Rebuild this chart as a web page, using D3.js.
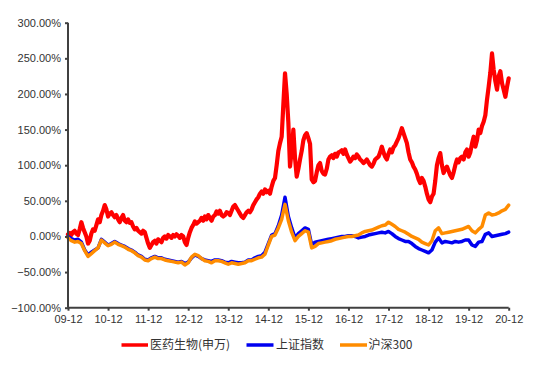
<!DOCTYPE html>
<html>
<head>
<meta charset="utf-8">
<script src="https://cdn.jsdelivr.net/npm/d3@7"></script>
<style>
  html, body { margin: 0; padding: 0; background: #fff; }
  svg { display: block; }
  text { font-family: "Liberation Sans", Arial, sans-serif; }
</style>
</head>
<body>
<div id="chart"></div>
<script>
// x tick labels (one per December, 2009-12 .. 2020-12)
const xTickLabels = ["09-12","10-12","11-12","12-12","13-12","14-12","15-12","16-12","17-12","18-12","19-12","20-12"];
const yTicks = [-100, -50, 0, 50, 100, 150, 200, 250, 300];
const seriesNames = ["医药生物(申万)", "上证指数", "沪深300"];

// 医药生物(申万): cumulative return (%), two readings per month from 2009-12
const pharma = [
  3,5, 2,6, 8,4, 2,10, 20,12, 6,0, -10,-6, 4,10, 8,16, 24,20,
  30,36, 44,38, 28,32, 34,30, 27,30, 24,20, 26,30, 22,20, 24,19, 20,14,
  10,12, 8,6, 4,8, 6,-2, -10,-16, -12,-8, -6,-10, -4,-6, -8,-2, 0,-3,
  2,0, -2,2, 0,3, 1,-2, 2,0, -8,-12, -2,6, 12,16, 21,18, 20,22,
  26,22, 28,24, 30,26, 22,28, 30,35, 32,36, 30,28, 30,34, 33,30, 36,42,
  44,40, 36,32, 28,26, 30,34, 36,34, 38,44, 48,52, 55,60, 63,60, 66,62,
  64,60, 70,78, 82,100, 120,131, 140,185, 229,200, 160,98, 120,150, 110,84, 95,108,
  120,135, 142,145, 138,130, 80,76, 78,90, 100,103, 92,88, 87,95, 108,112, 114,110,
  116,112, 118,119, 121,116, 122,115, 110,105, 108,112, 110,115, 112,108, 106,103, 105,108,
  104,100, 98,102, 108,110, 112,118, 126,118, 112,108, 116,122, 118,125, 128,133, 138,145,
  152,145, 138,131, 118,108, 104,98, 94,88, 80,75, 82,78, 70,60, 52,48, 56,60,
  78,100, 110,117, 100,89, 95,98, 92,86, 82,90, 100,108, 104,110, 112,108, 118,122,
  112,118, 130,140, 126,135, 150,145, 155,161, 170,192, 210,230, 257,234, 218,206, 225,232,
  215,206, 196,210, 222
];

// 上证指数: cumulative return (%), one reading per month from 2009-12
const shanghai = [
  0,-3,-5,-4,-8,-19,-26,-22,-19,-16,
  -4,-8,-12,-10,-7,-10,-12,-14,-17,-19,
  -22,-26,-28,-32,-33,-30,-28,-30,-30,-32,
  -33,-34,-35,-36,-35,-38,-36,-30,-26,-28,
  -31,-33,-34,-35,-33,-33,-34,-36,-37,-35,
  -36,-37,-37,-36,-33,-33,-30,-28,-27,-22,
  -10,2,4,15,30,55,28,12,-2,4,
  8,12,10,-12,-8,-7,-6,-5,-4,-3,
  -2,-1,0,0,1,1,0,-2,-1,0,
  2,3,4,5,6,5,7,4,0,-3,
  -5,-7,-7,-10,-14,-17,-19,-21,-23,-19,
  -8,-2,-9,-7,-8,-9,-7,-8,-7,-5,
  -5,-12,-14,-8,-7,3,5,0,1,2,
  3,4,6
];

// 沪深300: cumulative return (%), one reading per month from 2009-12
const csi300 = [
  -2,-6,-8,-7,-10,-20,-28,-24,-20,-16,
  -5,-9,-13,-11,-8,-11,-13,-15,-18,-20,
  -23,-27,-29,-33,-34,-31,-29,-31,-31,-33,
  -34,-35,-36,-37,-36,-40,-37,-29,-25,-27,
  -31,-34,-35,-37,-34,-34,-35,-37,-39,-37,
  -38,-39,-38,-37,-34,-34,-32,-30,-29,-25,
  -12,0,2,12,24,45,22,6,-6,0,
  4,8,6,-16,-14,-10,-9,-8,-7,-6,
  -4,-3,-2,-1,0,0,1,2,5,7,
  8,9,11,13,15,16,20,17,14,10,
  8,6,3,0,-2,-4,-8,-10,-12,-6,
  8,12,4,5,6,7,8,9,10,12,
  14,8,5,10,14,30,33,30,31,33,
  36,38,44
];

const W = 536, H = 373;
const svg = d3.select("#chart").append("svg").attr("width", W).attr("height", H);

const x = d3.scaleLinear().domain([0, 132]).range([68, 508.7]);
const y = d3.scaleLinear().domain([-100, 300]).range([307.7, 22.7]);

const axisColor = "#404040";
const textColor = "#333333";

// lines
const line = d3.line().x(d => x(d[0])).y(d => y(d[1])).curve(d3.curveLinear);
const series = [
  { name: seriesNames[0], color: "#FF0000", width: 4.2, pts: pharma.map((v, i) => [i / 2, v]) },
  { name: seriesNames[1], color: "#0000F0", width: 3.5, pts: shanghai.map((v, i) => [i, v]) },
  { name: seriesNames[2], color: "#FF8C00", width: 3.5, pts: csi300.map((v, i) => [i, v]) }
];
svg.append("g").selectAll("path").data(series).join("path")
  .attr("d", d => line(d.pts))
  .attr("fill", "none")
  .attr("stroke", d => d.color)
  .attr("stroke-width", d => d.width)
  .attr("stroke-linejoin", "round")
  .attr("stroke-linecap", "round");

// y axis
const yAxis = d3.axisLeft(y).tickValues(yTicks).tickSize(3).tickPadding(4)
  .tickFormat(d => d3.format(".2f")(d) + "%");
const gy = svg.append("g").attr("transform", "translate(68,0)").call(yAxis);
gy.select(".domain").attr("stroke", axisColor).attr("stroke-width", 2)
  .attr("d", `M0,${y(300)}V${y(-100)}`);
gy.selectAll(".tick line").attr("stroke", axisColor).attr("stroke-width", 2);
gy.selectAll(".tick text").attr("fill", textColor).style("font-size", "11px")
  .style("font-family", '"Liberation Sans", Arial, sans-serif');

// x axis
const xAxis = d3.axisBottom(x).tickValues(d3.range(0, 133, 12)).tickSize(3).tickPadding(5)
  .tickFormat((d, i) => xTickLabels[i]);
const gx = svg.append("g").attr("transform", `translate(0,${y(-100)})`).call(xAxis);
gx.select(".domain").attr("stroke", axisColor).attr("stroke-width", 2)
  .attr("d", `M${x(0)},0H${x(132)}`);
gx.selectAll(".tick line").attr("stroke", axisColor).attr("stroke-width", 2);
gx.selectAll(".tick text").attr("fill", textColor).style("font-size", "11px")
  .style("font-family", '"Liberation Sans", Arial, sans-serif');

// legend
const legendItems = [
  { x0: 121.5, x1: 148, tx: 150 },
  { x0: 246.5, x1: 273.5, tx: 276 },
  { x0: 340, x1: 367, tx: 368.5 }
];
const ly = 345;
const lg = svg.append("g");
legendItems.forEach((it, i) => {
  lg.append("line").attr("x1", it.x0).attr("x2", it.x1).attr("y1", ly).attr("y2", ly)
    .attr("stroke", series[i].color).attr("stroke-width", 3.5);
  lg.append("text").attr("x", it.tx).attr("y", ly).attr("dy", "0.36em")
    .attr("fill", textColor).style("font-size", "12px")
    .style("font-family", '"Noto Sans CJK SC", "Liberation Sans", sans-serif')
    .text(series[i].name);
});
</script>
</body>
</html>
